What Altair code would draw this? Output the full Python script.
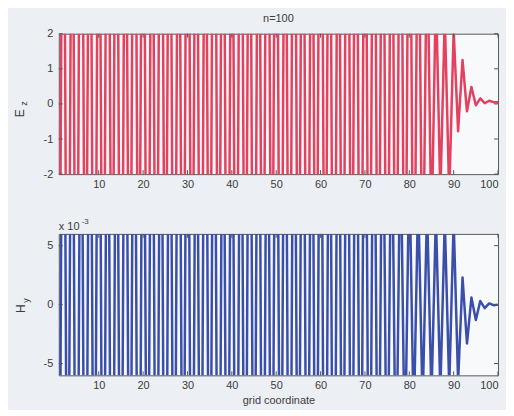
import altair as alt
import pandas as pd

# grid coordinate
x = list(range(1, 101))

# E_z values (clipped by axis range [-2, 2] in the picture)
ez = [
    -11.6, 12.8, -14.2, 10.4, -13.2, 15.6, -11.0, 12.2, -14.8, 11.8,
    -12.4, 14.0, -10.8, 13.6, -15.2, 11.2, -12.0, 14.6, -10.2, 13.0,
    -14.4, 11.6, -12.8, 15.0, -10.6, 12.4, -14.0, 11.4, -13.6, 14.2,
    -11.2, 12.6, -14.6, 11.0, -12.2, 15.4, -11.8, 13.2, -14.0, 10.8,
    -13.0, 14.4, -11.4, 12.0, -15.0, 11.6, -12.6, 14.8, -10.4, 13.4,
    -14.2, 11.2, -12.4, 14.0, -11.0, 12.8, -14.6, 11.8, -12.0, 15.2,
    -10.8, 12.2, -14.4, 11.4, -13.2, 14.2, -10.6, 13.0, -13.8, 11.6,
    -12.2, 13.6, -11.2, 12.4, -12.8, 11.8, -11.4, 12.0, -10.4, 11.0,
    -8.6, 7.8, -6.4, 5.2, -3.9, 3.3, -2.6, 2.5, -2.6, 2.1,
    -0.78, 1.25, -0.21, 0.48, -0.04, 0.16, 0.02, 0.09, 0.05, 0.05,
]

# H_y values in units of 1e-3 (clipped by axis range [-6, 6])
hy = [
    -36.4, 43.0, -32.8, 39.6, -44.2, 34.6, -41.2, 37.8, -33.6, 42.4,
    -38.8, 35.4, -43.6, 33.8, -37.0, 41.4, -34.4, 38.2, -42.6, 36.8,
    -33.2, 40.4, -39.4, 35.0, -42.0, 37.6, -35.8, 41.8, -32.6, 39.2,
    -40.8, 34.2, -37.4, 43.2, -34.8, 38.6, -41.6, 33.4, -38.0, 36.4,
    -42.8, 35.6, -36.2, 41.0, -33.8, 39.8, -40.2, 35.2, -37.2, 42.2,
    -34.0, 39.0, -40.6, 36.0, -33.0, 42.6, -38.4, 34.8, -37.6, 40.0,
    -43.4, 33.6, -39.6, 37.2, -35.2, 40.8, -36.6, 38.0, -32.4, 36.2,
    -30.6, 28.8, -26.4, 24.6, -22.0, 19.6, -17.4, 15.2, -13.6, 12.0,
    -10.4, 9.4, -8.6, 8.2, -7.9, 7.6, -7.4, 7.2, -7.0, 7.1,
    -6.5, 2.3, -3.3, 0.6, -1.3, 0.3, -0.3, 0.1, -0.05, 0.0,
]

xticks = [10, 20, 30, 40, 50, 60, 70, 80, 90, 100]
ez_ticks = [-2, -1, 0, 1, 2]
hy_ticks = [-5, 0, 5]

W, H1, H2 = 441, 141, 142
FONT = "Liberation Sans"
TXT = "#3c3c3c"
RED = "#e3415d"
BLUE = "#3a4faa"
TICK = "#555555"

one = pd.DataFrame({"a": [0]})
LABEL_EXPR = "datum.value < 0 ? '-' + abs(datum.value) : '' + datum.value"


def text(label, px, py, size=11, angle=0, align="center", baseline="middle"):
    return alt.Chart(one).mark_text(
        text=label, font=FONT, fontSize=size, color=TXT, angle=angle,
        align=align, baseline=baseline,
    ).encode(x=alt.value(px), y=alt.value(py))


def anchor(px, py):
    return alt.Chart(one).mark_rule(strokeOpacity=0, strokeWidth=0).encode(
        x=alt.value(px), y=alt.value(py), y2=alt.value(py + 0.5)
    )


def panel(values, color, ydomain, yticks, height, xtitle, extras):
    df = pd.DataFrame({"x": x, "v": values})
    xscale = alt.Scale(domain=[1, 100], nice=False, zero=False)
    yscale = alt.Scale(domain=ydomain, nice=False, zero=False)
    xaxis = alt.Axis(
        values=xticks, ticks=False, domain=False, grid=False, labelPadding=4,
        title=xtitle, titlePadding=4, titleFont=FONT, titleFontSize=11,
        titleFontWeight="normal", titleColor=TXT,
    )
    yaxis = alt.Axis(values=yticks, ticks=False, domain=False, grid=False,
                     labelPadding=6, title=None, labelExpr=LABEL_EXPR)
    line = alt.Chart(df).mark_line(
        clip=True, color=color, strokeWidth=2.5, strokeJoin="round"
    ).encode(
        x=alt.X("x:Q", scale=xscale, axis=xaxis),
        y=alt.Y("v:Q", scale=yscale, axis=yaxis),
    )
    dxt = pd.DataFrame({"xt": xticks})
    dyt = pd.DataFrame({"yt": yticks})
    xt_bot = alt.Chart(dxt).mark_rule(color=TICK, strokeWidth=1).encode(
        x=alt.X("xt:Q", scale=xscale, axis=xaxis),
        y=alt.value(height - 4), y2=alt.value(height))
    xt_top = alt.Chart(dxt).mark_rule(color=TICK, strokeWidth=1).encode(
        x=alt.X("xt:Q", scale=xscale, axis=xaxis),
        y=alt.value(0), y2=alt.value(4))
    yt_left = alt.Chart(dyt).mark_rule(color=TICK, strokeWidth=1).encode(
        y=alt.Y("yt:Q", scale=yscale, axis=yaxis),
        x=alt.value(0), x2=alt.value(4))
    yt_right = alt.Chart(dyt).mark_rule(color=TICK, strokeWidth=1).encode(
        y=alt.Y("yt:Q", scale=yscale, axis=yaxis),
        x=alt.value(W - 4), x2=alt.value(W))
    return alt.layer(line, xt_bot, xt_top, yt_left, yt_right, *extras).properties(
        width=W, height=height
    )


top = panel(
    ez, RED, [-2, 2], ez_ticks, H1, None,
    [
        text("n=100", W / 2, -15),
        text("E", -39, 80, size=12, angle=270),
        text("z", -35, 70, size=9, angle=270),
        anchor(-50, -24),
        anchor(W + 7, 10),
    ],
)

bottom = panel(
    hy, BLUE, [-6, 6], hy_ticks, H2, "grid coordinate",
    [
        text("x 10", 0, -4, size=11, align="left", baseline="alphabetic"),
        text("-3", 23, -10, size=8, align="left", baseline="alphabetic"),
        text("H", -38, 75, size=12, angle=270),
        text("y", -33, 67, size=9, angle=270),
        anchor(-50, 20),
        anchor(10, H2 + 33),
    ],
)

chart = alt.vconcat(top, bottom, spacing=60, bounds="flush").properties(
    background="#eceff3", padding=0
).configure_view(
    stroke="#5a5a5a", strokeWidth=1, fill="#f8f9fb"
).configure_axis(
    labelFont=FONT, labelFontSize=11, labelColor=TXT
)

chart.save("out.html", embed_options={"renderer": "svg", "actions": False})
